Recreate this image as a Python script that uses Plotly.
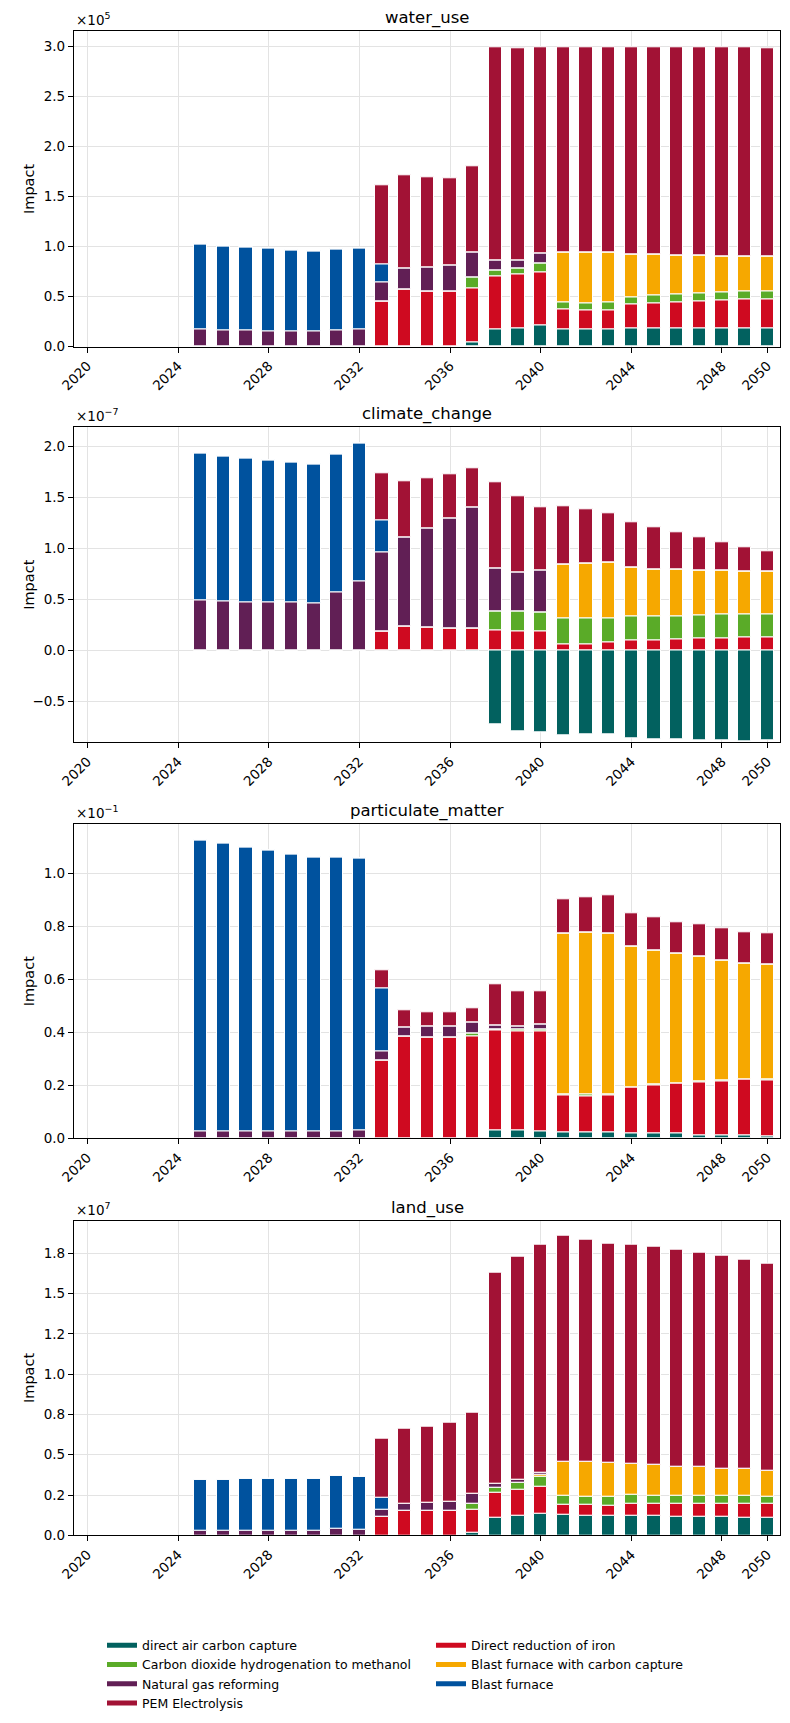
import plotly.graph_objects as go

YEARS = list(range(2025, 2051))

SERIES = [
    "direct air carbon capture",
    "Direct reduction of iron",
    "Carbon dioxide hydrogenation to methanol",
    "Blast furnace with carbon capture",
    "Natural gas reforming",
    "Blast furnace",
    "PEM Electrolysis",
]
COLORS = ["#02615f", "#cf0a20", "#5aab28", "#f6a800", "#611f55", "#00529e", "#a21235"]
LEGEND_COL = ["legend", "legend2", "legend", "legend2", "legend", "legend2", "legend"]

# ---------------- water_use (x1e5) ----------------
WATER_DAC = [0, 0, 0, 0, 0, 0, 0, 0, 0, 0, 0, 0, 0.043, 0.173, 0.18, 0.21,
             0.173, 0.173, 0.173, 0.18, 0.18, 0.18, 0.18, 0.18, 0.18, 0.18]
WATER_DRI = [0, 0, 0, 0, 0, 0, 0, 0, 0.45, 0.57, 0.557, 0.557, 0.544, 0.534, 0.54, 0.53,
             0.197, 0.187, 0.187, 0.24, 0.25, 0.26, 0.27, 0.28, 0.29, 0.29]
WATER_CO2H = [0, 0, 0, 0, 0, 0, 0, 0, 0, 0, 0, 0, 0.103, 0.053, 0.06, 0.09,
              0.07, 0.07, 0.08, 0.07, 0.08, 0.08, 0.08, 0.08, 0.08, 0.08]
WATER_BFCC = [0, 0, 0, 0, 0, 0, 0, 0, 0, 0, 0, 0, 0, 0, 0, 0,
              0.50, 0.51, 0.50, 0.43, 0.41, 0.39, 0.38, 0.36, 0.35, 0.35]
WATER_NGR = [0.177, 0.167, 0.167, 0.157, 0.157, 0.150, 0.167, 0.177, 0.19, 0.21, 0.236, 0.253, 0.25,
             0.107, 0.087, 0.10, 0, 0, 0, 0, 0, 0, 0, 0, 0, 0]
WATER_BF = [0.850, 0.840, 0.830, 0.830, 0.810, 0.807, 0.810, 0.810, 0.187, 0, 0, 0, 0,
            0, 0, 0, 0, 0, 0, 0, 0, 0, 0, 0, 0, 0]
WATER_PEM = [0, 0, 0, 0, 0, 0, 0, 0, 0.79, 0.937, 0.904, 0.877, 0.867, 2.13, 2.12, 2.067,
             2.057, 2.057, 2.057, 2.077, 2.077, 2.087, 2.087, 2.097, 2.097, 2.087]

# ---------------- climate_change (x1e-7) ----------------
CLIM_DAC = [0, 0, 0, 0, 0, 0, 0, 0, 0, 0, 0, 0, -0.01, -0.727, -0.795, -0.809,
            -0.835, -0.825, -0.825, -0.864, -0.874, -0.874, -0.884, -0.884, -0.894, -0.884]
CLIM_DRI = [0, 0, 0, 0, 0, 0, 0, 0, 0.183, 0.236, 0.223, 0.213, 0.213, 0.193, 0.183, 0.183,
            0.059, 0.059, 0.075, 0.095, 0.095, 0.105, 0.115, 0.115, 0.124, 0.124]
CLIM_CO2H = [0, 0, 0, 0, 0, 0, 0, 0, 0, 0, 0, 0, 0.005, 0.19, 0.20, 0.19,
             0.259, 0.259, 0.243, 0.236, 0.242, 0.232, 0.225, 0.235, 0.226, 0.226]
CLIM_BFCC = [0, 0, 0, 0, 0, 0, 0, 0, 0, 0, 0, 0, 0, 0, 0, 0,
             0.527, 0.54, 0.549, 0.481, 0.462, 0.455, 0.446, 0.432, 0.423, 0.423]
CLIM_NGR = [0.488, 0.484, 0.475, 0.468, 0.468, 0.458, 0.566, 0.674, 0.776, 0.87, 0.975, 1.083, 1.183,
            0.419, 0.383, 0.413, 0, 0, 0, 0, 0, 0, 0, 0, 0, 0]
CLIM_BF = [1.45, 1.424, 1.414, 1.401, 1.381, 1.372, 1.362, 1.362, 0.318, 0, 0, 0, 0,
           0, 0, 0, 0, 0, 0, 0, 0, 0, 0, 0, 0, 0]
CLIM_PEM = [0, 0, 0, 0, 0, 0, 0, 0, 0.464, 0.557, 0.494, 0.436, 0.389, 0.851, 0.746, 0.622,
            0.569, 0.53, 0.478, 0.445, 0.412, 0.367, 0.327, 0.279, 0.242, 0.202]

# ---------------- particulate_matter (x1e-1) ----------------
PM_DAC = [0, 0, 0, 0, 0, 0, 0, 0, 0, 0, 0, 0, 0, 0.029, 0.029, 0.025,
          0.023, 0.023, 0.023, 0.019, 0.019, 0.019, 0.0125, 0.0125, 0.0125, 0.009]
PM_DRI = [0, 0, 0, 0, 0, 0, 0, 0, 0.295, 0.386, 0.383, 0.383, 0.386, 0.38, 0.376, 0.38,
          0.141, 0.134, 0.141, 0.172, 0.183, 0.188, 0.1995, 0.2035, 0.2095, 0.211]
PM_CO2H = [0, 0, 0, 0, 0, 0, 0, 0, 0, 0, 0, 0, 0.01, 0.004, 0.007, 0.007,
           0.003, 0.009, 0.003, 0.002, 0.002, 0.002, 0.002, 0.002, 0.002, 0.002]
PM_BFCC = [0, 0, 0, 0, 0, 0, 0, 0, 0, 0, 0, 0, 0, 0, 0, 0,
           0.607, 0.613, 0.606, 0.532, 0.505, 0.49, 0.472, 0.455, 0.438, 0.437]
PM_NGR = [0.025, 0.025, 0.025, 0.025, 0.025, 0.025, 0.028, 0.029, 0.032, 0.032, 0.04, 0.04, 0.044,
          0.012, 0.012, 0.017, 0, 0, 0, 0, 0, 0, 0, 0, 0, 0]
PM_BF = [1.102, 1.090, 1.075, 1.064, 1.049, 1.038, 1.035, 1.030, 0.238, 0, 0, 0, 0,
         0, 0, 0, 0, 0, 0, 0, 0, 0, 0, 0, 0, 0]
PM_PEM = [0, 0, 0, 0, 0, 0, 0, 0, 0.069, 0.065, 0.053, 0.053, 0.051, 0.156, 0.131, 0.126,
          0.128, 0.133, 0.143, 0.123, 0.124, 0.118, 0.121, 0.119, 0.117, 0.116]

# ---------------- land_use (x1e7) ----------------
LAND_DAC = [0, 0, 0, 0, 0, 0, 0, 0, 0, 0, 0, 0, 0.019, 0.110, 0.122, 0.134,
            0.128, 0.122, 0.122, 0.122, 0.122, 0.116, 0.116, 0.116, 0.110, 0.110]
LAND_DRI = [0, 0, 0, 0, 0, 0, 0, 0, 0.118, 0.151, 0.151, 0.151, 0.14, 0.157, 0.163, 0.17,
            0.064, 0.068, 0.062, 0.074, 0.074, 0.080, 0.080, 0.080, 0.086, 0.086]
LAND_CO2H = [0, 0, 0, 0, 0, 0, 0, 0, 0, 0, 0, 0, 0.037, 0.031, 0.039, 0.062,
             0.054, 0.052, 0.054, 0.054, 0.050, 0.050, 0.050, 0.050, 0.050, 0.046]
LAND_BFCC = [0, 0, 0, 0, 0, 0, 0, 0, 0, 0, 0, 0, 0, 0, 0, 0.01,
             0.213, 0.217, 0.214, 0.192, 0.19, 0.182, 0.178, 0.169, 0.165, 0.161]
LAND_NGR = [0.031, 0.031, 0.031, 0.031, 0.031, 0.031, 0.043, 0.037, 0.041, 0.045, 0.051, 0.058, 0.062,
            0.022, 0.019, 0.012, 0, 0, 0, 0, 0, 0, 0, 0, 0, 0]
LAND_BF = [0.314, 0.314, 0.320, 0.320, 0.320, 0.320, 0.327, 0.327, 0.074, 0, 0, 0, 0,
           0, 0, 0, 0, 0, 0, 0, 0, 0, 0, 0, 0, 0]
LAND_PEM = [0, 0, 0, 0, 0, 0, 0, 0, 0.368, 0.467, 0.472, 0.489, 0.504, 1.31, 1.384, 1.414,
            1.398, 1.374, 1.356, 1.36, 1.353, 1.343, 1.328, 1.318, 1.298, 1.281]

PANELS = [
    dict(title="water_use", scale=1e5, exp="5",
         data=[WATER_DAC, WATER_DRI, WATER_CO2H, WATER_BFCC, WATER_NGR, WATER_BF, WATER_PEM],
         ticks=[0, 0.5, 1.0, 1.5, 2.0, 2.5, 3.0],
         labels=["0.0", "0.5", "1.0", "1.5", "2.0", "2.5", "3.0"],
         yrange=[0, 3.154]),
    dict(title="climate_change", scale=1e-7, exp="\u22127",
         data=[CLIM_DAC, CLIM_DRI, CLIM_CO2H, CLIM_BFCC, CLIM_NGR, CLIM_BF, CLIM_PEM],
         ticks=[-0.5, 0, 0.5, 1.0, 1.5, 2.0],
         labels=["\u22120.5", "0.0", "0.5", "1.0", "1.5", "2.0"],
         yrange=[-0.904, 2.19]),
    dict(title="particulate_matter", scale=1e-1, exp="\u22121",
         data=[PM_DAC, PM_DRI, PM_CO2H, PM_BFCC, PM_NGR, PM_BF, PM_PEM],
         ticks=[0, 0.2, 0.4, 0.6, 0.8, 1.0],
         labels=["0.0", "0.2", "0.4", "0.6", "0.8", "1.0"],
         yrange=[0, 1.186]),
    dict(title="land_use", scale=1e7, exp="7",
         data=[LAND_DAC, LAND_DRI, LAND_CO2H, LAND_BFCC, LAND_NGR, LAND_BF, LAND_PEM],
         ticks=[0, 0.25, 0.5, 0.75, 1.0, 1.25, 1.5, 1.75],
         labels=["0.0", "0.2", "0.5", "0.8", "1.0", "1.2", "1.5", "1.8"],
         yrange=[0, 1.952]),
]

XTICKS = [2020, 2024, 2028, 2032, 2036, 2040, 2044, 2048, 2050]

W, H = 790, 1723
TOPS = [31.3, 427.3, 824.3, 1220.7]
BOTTOMS = [346.7, 742.3, 1138.3, 1535.3]
XL, XR = 74, 780
FONT = "DejaVu Sans"

fig = go.Figure()
layout = dict(
    width=W, height=H, margin=dict(l=0, r=0, t=0, b=0, autoexpand=False),
    paper_bgcolor="white", plot_bgcolor="white",
    barmode="relative", bargap=0, font=dict(family=FONT, size=14, color="black"),
    annotations=[],
)

for i, p in enumerate(PANELS):
    sfx = "" if i == 0 else str(i + 1)
    for k, name in enumerate(SERIES):
        fig.add_trace(go.Bar(
            x=YEARS, y=[v * p["scale"] for v in p["data"][k]], width=0.6,
            name=name, marker=dict(color=COLORS[k], line=dict(color="white", width=1)),
            showlegend=False, xaxis="x" + sfx, yaxis="y" + sfx,
        ))
    y0 = 1 - BOTTOMS[i] / H
    y1 = 1 - TOPS[i] / H
    layout["xaxis" + sfx] = dict(
        domain=[XL / W, XR / W], anchor="y" + sfx, range=[2019.41, 2050.56],
        tickvals=XTICKS, ticktext=[str(t) for t in XTICKS], tickangle=-45,
        showgrid=True, gridcolor="#e3e3e3", gridwidth=1, zeroline=False,
        showline=True, linecolor="black", linewidth=1.2, mirror=True,
        ticks="outside", ticklen=5, tickwidth=1.2, tickcolor="black", automargin=False,
        tickfont=dict(family=FONT, size=13.5, color="black"),
    )
    layout["yaxis" + sfx] = dict(
        domain=[y0, y1], anchor="x" + sfx,
        range=[r * p["scale"] for r in p["yrange"]],
        tickvals=[t * p["scale"] for t in p["ticks"]], ticktext=p["labels"],
        showgrid=True, gridcolor="#e3e3e3", gridwidth=1, zeroline=False,
        showline=True, linecolor="black", linewidth=1.2, mirror=True,
        ticks="outside", ticklen=5, tickwidth=1.2, tickcolor="black", automargin=False,
        tickfont=dict(family=FONT, size=13.5, color="black"),
    )
    layout["annotations"] += [
        dict(text=p["title"], xref="paper", yref="paper", x=(XL + XR) / 2 / W,
             y=1 - (TOPS[i] - 13) / H, xanchor="center", yanchor="middle",
             showarrow=False, font=dict(family=FONT, size=16.5, color="black")),
        dict(text="\u00d710<sup>" + p["exp"] + "</sup>", xref="paper", yref="paper",
             x=XL / W, y=1 - (TOPS[i] - 1) / H, xanchor="left", yanchor="bottom",
             showarrow=False, font=dict(family=FONT, size=13.5, color="black")),
        dict(text="Impact", xref="paper", yref="paper", x=29 / W,
             y=(y0 + y1) / 2, xanchor="center", yanchor="middle", textangle=-90,
             showarrow=False, font=dict(family=FONT, size=14.5, color="black")),
    ]

# legend entries (rectangular patches)
for k, name in enumerate(SERIES):
    fig.add_trace(go.Scatter(
        x=[None], y=[None], mode="lines", name=name,
        line=dict(color=COLORS[k], width=5), legend=LEGEND_COL[k],
        xaxis="x", yaxis="y", showlegend=True,
    ))

leg_common = dict(
    yanchor="top", y=1 - 1630.5 / H, xanchor="left", bgcolor="rgba(0,0,0,0)",
    font=dict(family=FONT, size=12.5, color="black"), tracegroupgap=0, itemwidth=30,
    orientation="v",
)
layout["legend"] = dict(x=102 / W, **leg_common)
layout["legend2"] = dict(x=431 / W, **leg_common)

fig.update_layout(**layout)
fig.write_html("out.html")
